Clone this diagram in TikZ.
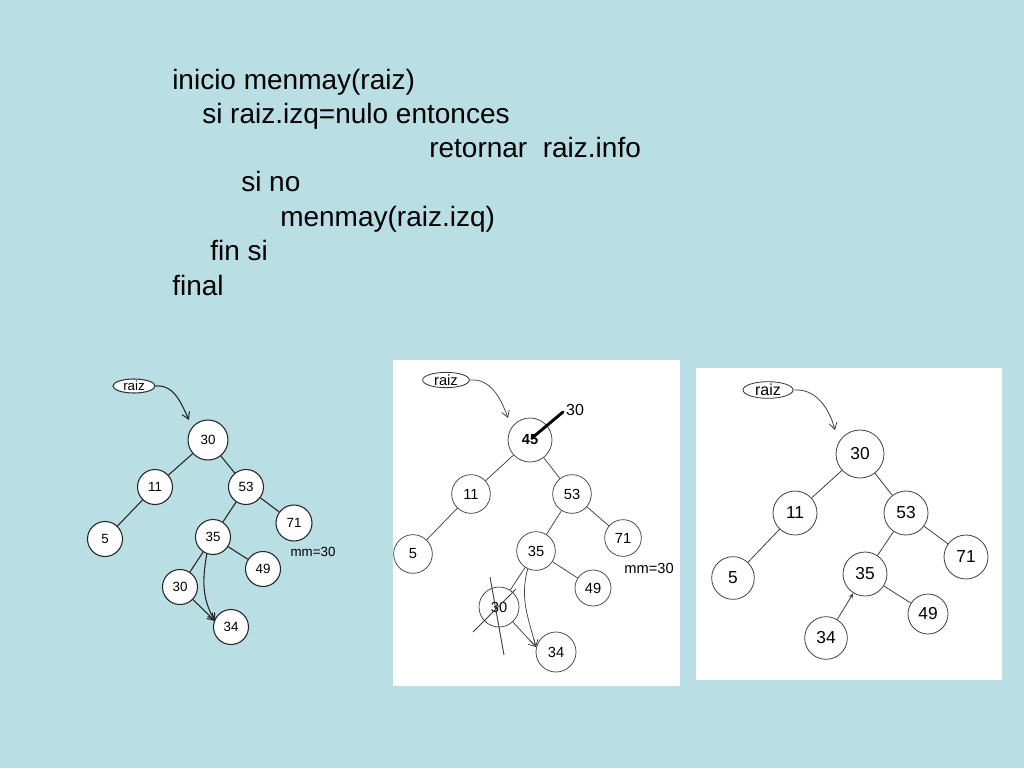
\documentclass[tikz,border=0pt]{standalone}
\usepackage{fontspec}
\setmainfont{Liberation Sans}
\usetikzlibrary{shapes.geometric,arrows.meta}
\definecolor{bgblue}{RGB}{185,222,227}
\begin{document}
\begin{tikzpicture}[x=0.75pt,y=-0.75pt,
  codeline/.style={anchor=base west,inner sep=0,font=\fontsize{21}{25}\selectfont},
  lnode/.style={circle,draw=black!85,line width=0.8pt,fill=white,inner sep=0,minimum size=26.25pt,font=\fontsize{10}{12}\selectfont},
  ledge/.style={draw=black!85,line width=0.8pt},
  larrow/.style={ledge,-{Straight Barb[length=5pt,width=6pt]}},
  mnode/.style={circle,draw=black!75,line width=0.55pt,fill=white,inner sep=0,minimum size=29pt,font=\fontsize{11}{13}\selectfont},
  medge/.style={draw=black!75,line width=0.55pt},
  marrow/.style={medge,-{Straight Barb[length=5pt,width=6pt]}},
  rnode/.style={circle,draw=black!75,line width=0.6pt,fill=white,inner sep=0,minimum size=33pt,font=\fontsize{13}{15}\selectfont},
  redge/.style={draw=black!75,line width=0.6pt},
  raizbox/.style={ellipse,draw=black!80,fill=white,inner sep=0}
]
\useasboundingbox (0,0) rectangle (1024,768);
\fill[bgblue] (0,0) rectangle (1024,768);

% pseudo-code
\node[codeline] (c1) at (172,89) {inicio menmay(raiz)};
\node[codeline] (c2) at (202,123) {si raiz.izq=nulo entonces};
\node[codeline] (c3) at (429,157) {retornar\ \ raiz.info};
\node[codeline] (c4) at (241,191) {si no};
\node[codeline] (c5) at (280,226) {menmay(raiz.izq)};
\node[codeline] (c6) at (210,260) {fin si};
\node[codeline] (c7) at (172,295) {final};

% ---------- left tree ----------
\node[raizbox,line width=0.8pt,minimum width=31.5pt,minimum height=10.5pt,font=\fontsize{10}{12}\selectfont] (Lraiz) at (134,386) {raiz};
\node[lnode,minimum size=30pt] (L30) at (208,440) {30};
\node[lnode] (L11) at (155,487) {11};
\node[lnode] (L53) at (246,487) {53};
\node[lnode] (L5) at (105,539) {5};
\node[lnode,minimum size=27pt] (L71) at (294,523) {71};
\node[lnode] (L35) at (213,537) {35};
\node[lnode] (L49) at (263,569) {49};
\node[lnode] (L30b) at (180,587) {30};
\node[lnode] (L34) at (231,627) {34};
\node[inner sep=0,font=\fontsize{10}{12}\selectfont] (Lmm) at (313,552) {mm=30};
\coordinate (Ltip) at (189,420);
\draw[larrow] (Lraiz.east) to[out=5,in=115] (Ltip);
\draw[ledge] (L30) -- (L11);
\draw[ledge] (L30) -- (L53);
\draw[ledge] (L11) -- (L5);
\draw[ledge] (L53) -- (L35);
\draw[ledge] (L53) -- (L71);
\draw[ledge] (L35) -- (L49);
\draw[ledge] (L35) -- (L30b);
\coordinate (L34in) at (215,621);
\draw[larrow] (L30b) -- (L34in);
\draw[larrow] (L35.250) to[out=-100,in=120] (L34in);

% ---------- middle panel ----------
\fill[white] (393,360) rectangle (680,686);
\node[raizbox,line width=0.6pt,minimum width=35pt,minimum height=11.5pt,font=\fontsize{11}{13}\selectfont] (Mraiz) at (446,380) {raiz};
\node[mnode,minimum size=33pt,font=\bfseries\fontsize{11}{13}\selectfont] (M45) at (530,440) {45};
\node[mnode] (M11) at (471,494) {11};
\node[mnode] (M53) at (572,494) {53};
\node[mnode] (M5) at (413,554) {5};
\node[mnode,minimum size=27.5pt] (M71) at (623,538) {71};
\node[mnode] (M35) at (536,551) {35};
\node[mnode,minimum size=27pt] (M49) at (593,588) {49};
\node[mnode,minimum size=30pt] (M30b) at (499,607) {30};
\node[mnode,minimum size=30pt] (M34) at (556,652) {34};
\node[inner sep=0,font=\fontsize{11}{13}\selectfont] (Mmm) at (649,568) {mm=30};
\node[inner sep=0,font=\fontsize{12}{14}\selectfont] (M30lab) at (575,410) {30};
\coordinate (Mtip) at (508,418);
\draw[marrow] (Mraiz.east) to[out=5,in=110] (Mtip);
\coordinate (MthickA) at (532,438);
\coordinate (MthickB) at (563,412);
\draw[line width=2.2pt,line cap=round] (MthickA) -- (MthickB);
\draw[medge] (M45) -- (M11);
\draw[medge] (M45) -- (M53);
\draw[medge] (M11) -- (M5);
\draw[medge] (M53) -- (M35);
\draw[medge] (M53) -- (M71);
\draw[medge] (M35) -- (M49);
\draw[medge] (M35) -- (M30b);
\coordinate (M34in) at (536,647);
\draw[marrow] (M30b) -- (M34in);
\draw[marrow] (M35.245) to[out=-105,in=105] (M34in);
\coordinate (McrossA1) at (490,577);
\coordinate (McrossA2) at (504,655);
\coordinate (McrossB1) at (473,632);
\coordinate (McrossB2) at (516,589);
\draw[medge,line width=0.7pt] (McrossA1) -- (McrossA2);
\draw[medge] (McrossB1) -- (McrossB2);

% ---------- right panel ----------
\fill[white] (696,368) rectangle (1002,680);
\node[raizbox,line width=0.6pt,minimum width=37.5pt,minimum height=11.5pt,font=\fontsize{12}{14}\selectfont] (Rraiz) at (768,390) {raiz};
\node[rnode,minimum size=36pt] (R30) at (860,454) {30};
\node[rnode] (R11) at (795,513) {11};
\node[rnode] (R53) at (906,513) {53};
\node[rnode,minimum size=32pt] (R5) at (733,578) {5};
\node[rnode] (R71) at (966,557) {71};
\node[rnode] (R35) at (865,574) {35};
\node[rnode,minimum size=30pt] (R49) at (928,614) {49};
\node[rnode,minimum size=32pt] (R34) at (826,638) {34};
\coordinate (Rtip) at (835,430);
\draw[redge,-{Straight Barb[length=5pt,width=6pt]}] (Rraiz.east) to[out=5,in=105] (Rtip);
\draw[redge] (R30) -- (R11);
\draw[redge] (R30) -- (R53);
\draw[redge] (R11) -- (R5);
\draw[redge] (R53) -- (R35);
\draw[redge] (R53) -- (R71);
\draw[redge] (R35) -- (R49);
\draw[redge,-{Stealth[length=4pt,width=3pt]}] (R34) -- (R35);
\end{tikzpicture}
\end{document}
